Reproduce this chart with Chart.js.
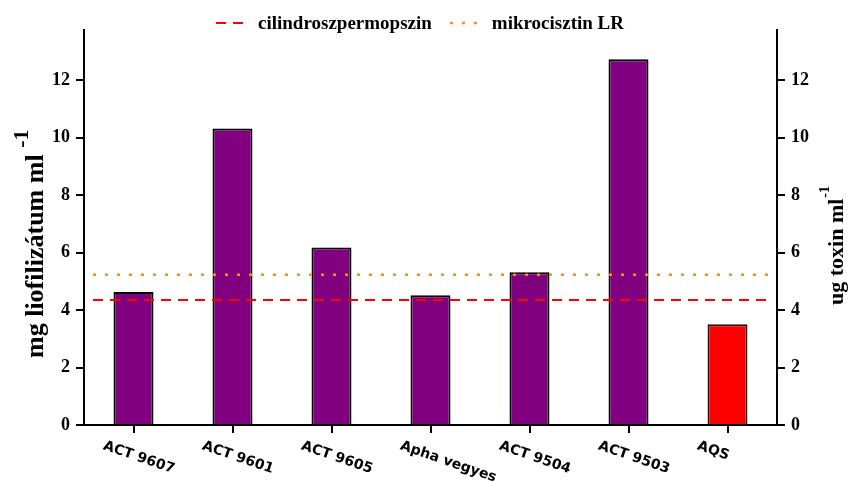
<!DOCTYPE html>
<html>
<head>
<meta charset="utf-8">
<script src="https://cdn.jsdelivr.net/npm/chart.js@4"></script>
<style>
  html, body { margin: 0; padding: 0; background: #fff; }
  #wrap { width: 849px; height: 481px; }
</style>
</head>
<body>
<div id="wrap"><canvas id="chart"></canvas></div>
<script>
// values
const categories = ['ACT 9607', 'ACT 9601', 'ACT 9605', 'Apha vegyes', 'ACT 9504', 'ACT 9503', 'AQS'];
const values = [4.63, 10.32, 6.18, 4.52, 5.32, 12.73, 3.51];
const barColors = ['#800080', '#800080', '#800080', '#800080', '#800080', '#800080', '#ff0000'];
const barBorders = ['#000', '#000', '#000', '#000', '#000', '#000', '#3a0a0a'];
const lineNames = ['cilindroszpermopszin', 'mikrocisztin LR'];
const lineLevels = [4.35, 5.23];

// look of the two limit lines
const lineStyles = [
    { color: '#ff0000', width: 2, dash: [10, 7] },
    { color: '#ff8c1a', width: 2.5, dash: [3, 9] }
];

const serif = '"Liberation Serif", "Times New Roman", serif';
const sans = '"DejaVu Sans", Verdana, sans-serif';

// horizontal limit lines, drawn over the bars through the y scale
const limitLinesPlugin = {
    id: 'limitLines',
    afterDatasetsDraw(chart) {
        const ctx = chart.ctx;
        const area = chart.chartArea;
        const ys = chart.scales.y;
        ctx.save();
        lineLevels.forEach((v, i) => {
            const st = lineStyles[i];
            const y = ys.getPixelForValue(v);
            ctx.strokeStyle = st.color;
            ctx.lineWidth = st.width;
            ctx.setLineDash(st.dash);
            ctx.beginPath();
            ctx.moveTo(area.left + 9, y);
            ctx.lineTo(area.right - 5, y);
            ctx.stroke();
        });
        ctx.restore();
    }
};

// rotated x labels, axis titles with superscripts and the legend
const extrasPlugin = {
    id: 'extras',
    afterDraw(chart) {
        const ctx = chart.ctx;
        const xs = chart.scales.x;
        const bottom = chart.chartArea.bottom;

        // x labels, slanted downwards to the right
        ctx.save();
        ctx.fillStyle = '#000';
        ctx.font = 'bold 14px ' + sans;
        ctx.textAlign = 'left';
        ctx.textBaseline = 'alphabetic';
        categories.forEach((c, i) => {
            const x = xs.getPixelForValue(i);
            ctx.save();
            ctx.translate(x - 31, bottom + 24);
            ctx.rotate(19 * Math.PI / 180);
            ctx.fillText(c, 0, 0);
            ctx.restore();
        });
        ctx.restore();

        // left axis title
        ctx.save();
        ctx.fillStyle = '#000';
        ctx.translate(43, 358);
        ctx.rotate(-Math.PI / 2);
        ctx.font = 'bold 26px ' + serif;
        ctx.textBaseline = 'alphabetic';
        const t1 = 'mg liofilizátum ml ';
        ctx.fillText(t1, 0, 0);
        const w1 = ctx.measureText(t1).width;
        ctx.font = 'bold 22px ' + serif;
        ctx.fillText('-1', w1, -15);
        ctx.restore();

        // right axis title
        ctx.save();
        ctx.fillStyle = '#000';
        ctx.translate(843, 305);
        ctx.rotate(-Math.PI / 2);
        ctx.font = 'bold 22px ' + serif;
        const t2 = 'ug toxin ml';
        ctx.fillText(t2, 0, 0);
        const w2 = ctx.measureText(t2).width;
        ctx.font = 'bold 14px ' + serif;
        ctx.fillText('-1', w2 + 1, -14);
        ctx.restore();

        // legend
        ctx.save();
        ctx.font = 'bold 19px ' + serif;
        ctx.textBaseline = 'alphabetic';
        const ly = 23;
        const lineW = 30, gapA = 12, gapB = 18;
        const widths = lineNames.map(n => lineW + gapA + ctx.measureText(n).width);
        const total = widths.reduce((a, b) => a + b, 0) + gapB * (lineNames.length - 1);
        let x = 420 - total / 2;
        lineNames.forEach((n, i) => {
            const st = lineStyles[i];
            ctx.strokeStyle = st.color;
            ctx.lineWidth = st.width;
            ctx.setLineDash(st.dash);
            ctx.beginPath();
            ctx.moveTo(x, ly);
            ctx.lineTo(x + lineW, ly);
            ctx.stroke();
            ctx.setLineDash([]);
            ctx.fillStyle = '#000';
            ctx.fillText(n, x + lineW + gapA, ly + 6);
            x += widths[i] + gapB;
        });
        ctx.restore();
    }
};

const yCommon = {
    min: 0,
    max: 13.75,
    ticks: {
        stepSize: 2,
        includeBounds: false,
        color: '#000',
        padding: 6,
        font: { family: serif, size: 18, weight: 'bold' }
    },
    grid: { drawOnChartArea: false, drawTicks: true, tickLength: 8, color: '#000', lineWidth: 2 },
    border: { display: true, color: '#000', width: 2 }
};

new Chart(document.getElementById('chart'), {
    type: 'bar',
    data: {
        labels: categories,
        datasets: [{
            label: 'minták',
            data: values,
            backgroundColor: barColors,
            borderColor: barBorders,
            borderWidth: 2,
            barPercentage: 0.404,
            categoryPercentage: 1
        }]
    },
    options: {
        responsive: true,
        maintainAspectRatio: false,
        animation: false,
        layout: { padding: { top: 30, left: 0, right: 0, bottom: 0 } },
        plugins: {
            legend: { display: false },
            tooltip: { enabled: false }
        },
        scales: {
            x: {
                type: 'category',
                offset: true,
                ticks: { display: false },
                grid: { offset: false, drawOnChartArea: false, drawTicks: true, tickLength: 8, color: '#000', lineWidth: 2 },
                border: { display: true, color: '#000', width: 2 },
                afterFit(scale) { scale.height = 56; }
            },
            y: Object.assign({}, yCommon, {
                position: 'left',
                afterFit(scale) { scale.width = 84; }
            }),
            y2: Object.assign({}, yCommon, {
                position: 'right',
                afterFit(scale) { scale.width = 72; }
            })
        }
    },
    plugins: [limitLinesPlugin, extrasPlugin]
});
</script>
</body>
</html>
